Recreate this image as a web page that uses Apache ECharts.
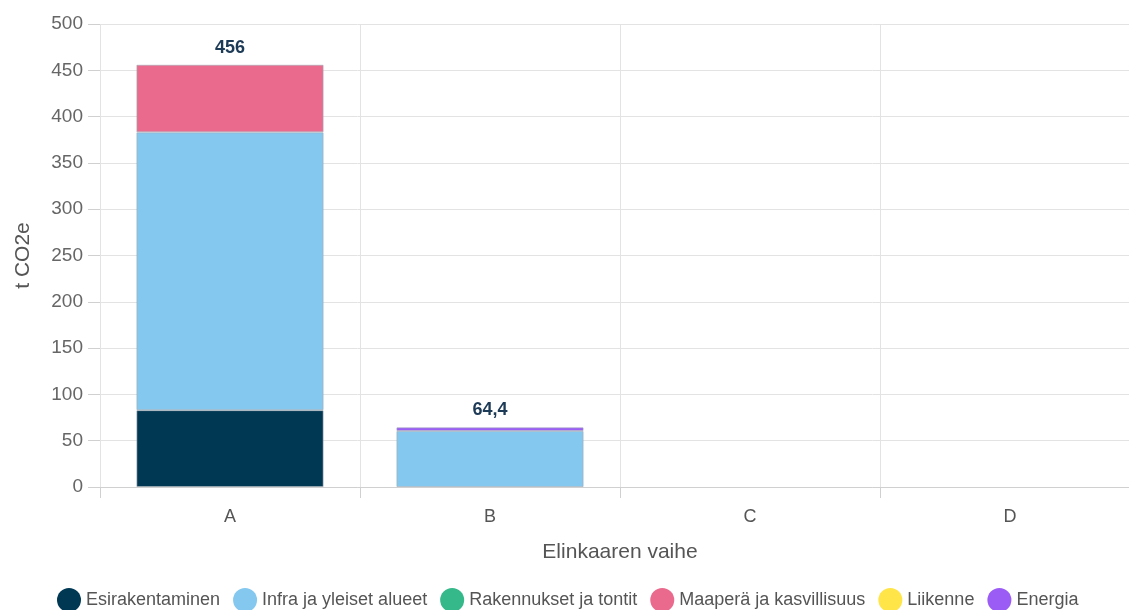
<!DOCTYPE html>
<html>
<head>
<meta charset="utf-8">
<script src="https://cdn.jsdelivr.net/npm/echarts@6/dist/echarts.min.js"></script>
<style>html,body{margin:0;padding:0;background:#fff}#c{width:1129px;height:610px}</style>
</head>
<body>
<div id="c"></div>
<script>
var categories = ['A', 'B', 'C', 'D'];
var esirakentaminen = [83, 0, 0, 0];
var infra = [300, 60.5, 0, 0];
var rakennukset = [0, 0, 0, 0];
var maapera = [73, 0, 0, 0];
var liikenne = [0, 0, 0, 0];
var energia = [0, 3.9, 0, 0];
var yTicks = [0, 50, 100, 150, 200, 250, 300, 350, 400, 450, 500];

var FONT = '"Liberation Sans", Arial, sans-serif';
var seriesDefs = [
  {name: 'Esirakentaminen', data: esirakentaminen, color: '#003854'},
  {name: 'Infra ja yleiset alueet', data: infra, color: '#84c8f0'},
  {name: 'Rakennukset ja tontit', data: rakennukset, color: '#35b88a'},
  {name: 'Maaperä ja kasvillisuus', data: maapera, color: '#ea6a8e'},
  {name: 'Liikenne', data: liikenne, color: '#ffe548'},
  {name: 'Energia', data: energia, color: '#9b5cf6'}
];
var totals = categories.map(function (c, i) {
  var s = 0; seriesDefs.forEach(function (d) { s += d.data[i]; }); return Math.round(s * 10) / 10;
});

var series = seriesDefs.map(function (d) {
  return {
    name: d.name, type: 'bar', stack: 'total', barWidth: '72%',
    itemStyle: {color: d.color, borderColor: 'rgba(160,170,180,0.6)', borderWidth: 1},
    data: d.data.map(function (v) { return v === 0 ? null : v; })
  };
});
series.push({
  name: 'total', type: 'bar', stack: 'total', barWidth: '72%',
  itemStyle: {color: 'transparent'}, silent: true,
  data: totals.map(function (t) { return t > 0 ? 0 : null; }),
  label: {
    show: true, position: 'top', distance: 8,
    color: '#1d3a56', fontWeight: 'bold', fontSize: 18, fontFamily: FONT,
    formatter: function (p) { return String(totals[p.dataIndex]).replace('.', ','); }
  }
});

var chart = echarts.init(document.getElementById('c'));
chart.setOption({
  animation: false,
  textStyle: {fontFamily: FONT},
  grid: {left: 100, right: -11, top: 24, bottom: 123, containLabel: false, outerBoundsMode: 'none'},
  legend: {
    bottom: -7, left: 52, icon: 'circle', itemWidth: 24, itemHeight: 24, itemGap: 13,
    itemStyle: {borderWidth: 0},
    data: seriesDefs.map(function (d) { return d.name; }),
    textStyle: {color: '#555', fontSize: 18, padding: [0, 0, 0, 0], fontFamily: FONT}
  },
  xAxis: {
    type: 'category', data: categories,
    name: 'Elinkaaren vaihe', nameLocation: 'middle', nameGap: 55,
    nameTextStyle: {color: '#555', fontSize: 21, fontFamily: FONT},
    axisLine: {lineStyle: {color: '#d0d0d0'}},
    axisTick: {show: true, length: 11, lineStyle: {color: '#d0d0d0'}},
    axisLabel: {color: '#555', fontSize: 18, margin: 21, fontFamily: FONT},
    splitLine: {show: true, lineStyle: {color: '#e3e3e3'}}
  },
  yAxis: {
    type: 'value', min: yTicks[0], max: yTicks[yTicks.length - 1], interval: 50,
    name: 't CO2e', nameLocation: 'middle', nameGap: 66, nameRotate: 90,
    nameTextStyle: {color: '#555', fontSize: 21, fontFamily: FONT},
    axisLine: {show: false},
    axisTick: {show: true, length: 12, lineStyle: {color: '#d0d0d0'}},
    axisLabel: {color: '#666', fontSize: 19, margin: 17, fontFamily: FONT},
    splitLine: {lineStyle: {color: '#e3e3e3'}}
  },
  series: series
});
</script>
</body>
</html>
